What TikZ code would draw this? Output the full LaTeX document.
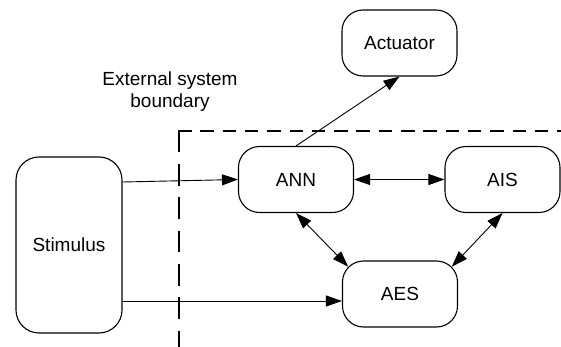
\documentclass[tikz,border=0pt]{standalone}
\usepackage{fontspec}
\setmainfont{Liberation Sans}
\usetikzlibrary{arrows.meta,calc}
\begin{document}
\begin{tikzpicture}[x=1pt,y=-1pt,
  box/.style={draw,line width=1.1pt,rounded corners=21pt,minimum width=115pt,minimum height=66pt,inner sep=0pt,font=\fontsize{19}{22}\selectfont},
  conn/.style={line width=0.9pt,-{Triangle[length=16pt,width=11pt]}},
  bconn/.style={line width=0.9pt,{Triangle[length=16pt,width=11pt]}-{Triangle[length=16pt,width=11pt]}},
  boundary/.style={line width=2pt}]
\useasboundingbox (0,0) rectangle (561,347);
\node[box,rounded corners=23pt,minimum width=106pt,minimum height=176pt] (stim) at (69,245) {Stimulus};
\node[box] (act) at (399.5,43) {Actuator};
\node[box] (ann) at (296,179.5) {ANN};
\node[box] (ais) at (502.5,179.5) {AIS};
\node[box] (aes) at (400,294) {AES};
\node[font=\fontsize{19}{22}\selectfont,align=center,inner sep=0pt] (lbl) at (170,92) {External system\\boundary};
\coordinate (bl) at (179,347);
\coordinate (tl) at (179,130.7);
\coordinate (tr) at (561,130.7);
\draw[boundary,dash pattern=on 21.7pt off 11.6pt] (tl) -- (bl);
\draw[boundary,dash pattern=on 13.5pt off 8.8pt] ([xshift=-1pt]tl) -- (tr);
\draw[conn] ([yshift=63pt]stim.east) -- (ann.west);
\draw[conn] ([yshift=-56pt]stim.east) -- ([yshift=-7pt]aes.west);
\draw[conn] (ann.north) -- (act.south);
\draw[bconn] (ann.east) -- (ais.west);
\draw[bconn] (ann.south) -- ($(aes.north west)+(6.2,6.2)$);
\draw[bconn] (ais.south) -- ($(aes.north east)+(-6.2,6.2)$);
\end{tikzpicture}
\end{document}
